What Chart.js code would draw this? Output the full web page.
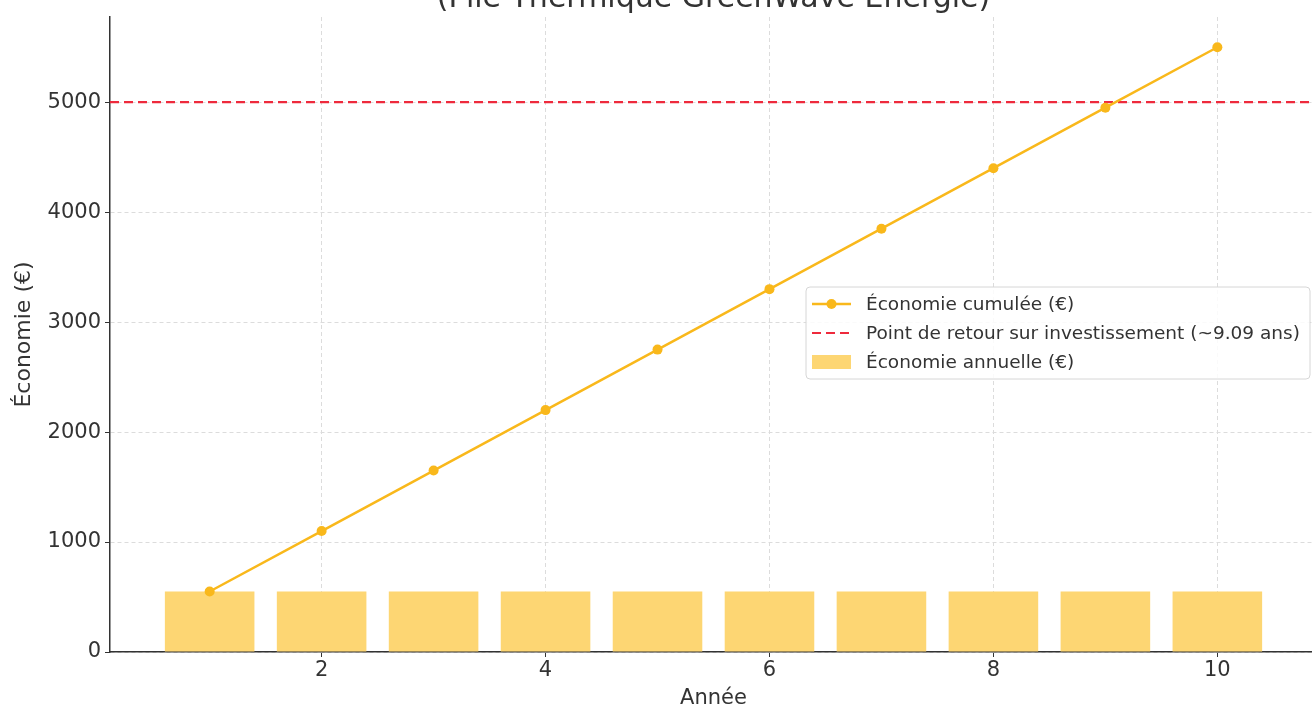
<!DOCTYPE html>
<html>
<head>
<meta charset="utf-8">
<script src="https://cdn.jsdelivr.net/npm/chart.js@4/dist/chart.umd.min.js"></script>
<style>
  html, body { margin: 0; padding: 0; background: #fff; overflow: hidden; }
  #wrap { position: absolute; left: 0; top: 0; width: 1330px; height: 709px; }
</style>
</head>
<body>
<div id="wrap"><canvas id="roiChart" width="1330" height="709"></canvas></div>
<script>
// Data
const years = [1, 2, 3, 4, 5, 6, 7, 8, 9, 10];
const annualSavings = [550, 550, 550, 550, 550, 550, 550, 550, 550, 550];
const cumulativeSavings = [550, 1100, 1650, 2200, 2750, 3300, 3850, 4400, 4950, 5500];
const paybackLevel = 5000;
const paybackYears = 9.09;
const xTicks = [2, 4, 6, 8, 10];
const yTicks = [0, 1000, 2000, 3000, 4000, 5000];

const xMin = 0.11, xMax = 10.89, yMax = 5775;

const textColor = '#333333';
const font = 'DejaVu Sans';

// title line (top line is cut off in the picture)
const titlePlugin = {
  id: 'cutTitle',
  afterDraw(chart) {
    const ctx = chart.ctx;
    const a = chart.chartArea;
    ctx.save();
    ctx.font = '30px "' + font + '"';
    ctx.fillStyle = textColor;
    ctx.textAlign = 'center';
    ctx.textBaseline = 'alphabetic';
    ctx.fillText('(Pile Thermique GreenWave Énergie)', (a.left + a.right) / 2, 7);
    ctx.restore();
  }
};

// matplotlib-like legend inside the plot
const legendPlugin = {
  id: 'boxLegend',
  afterDraw(chart) {
    const ctx = chart.ctx;
    const ds = chart.data.datasets;
    const x = 806, y = 287, w = 504, h = 92, rowH = 29;
    ctx.save();
    ctx.beginPath();
    ctx.roundRect(x, y, w, h, 4);
    ctx.fillStyle = 'rgba(255,255,255,0.85)';
    ctx.fill();
    ctx.strokeStyle = '#d6d6d6';
    ctx.lineWidth = 1;
    ctx.stroke();
    ctx.font = '18.5px "' + font + '"';
    ctx.textBaseline = 'middle';
    [ds[2], ds[1], ds[0]].forEach((d, i) => {
      const cy = y + 17 + i * rowH;
      if (d.type === 'bar') {
        ctx.fillStyle = d.backgroundColor;
        ctx.fillRect(812, cy - 7, 39, 14);
      } else {
        ctx.strokeStyle = d.borderColor;
        ctx.lineWidth = d.borderWidth;
        ctx.setLineDash(d.borderDash || []);
        ctx.beginPath();
        ctx.moveTo(812, cy);
        ctx.lineTo(851, cy);
        ctx.stroke();
        ctx.setLineDash([]);
        if (d.pointRadius > 0) {
          ctx.fillStyle = d.borderColor;
          ctx.beginPath();
          ctx.arc(831.5, cy, d.pointRadius, 0, Math.PI * 2);
          ctx.fill();
        }
      }
      ctx.fillStyle = textColor;
      ctx.fillText(d.label, 866, cy + 1);
    });
    ctx.restore();
  }
};

new Chart(document.getElementById('roiChart').getContext('2d'), {
  type: 'bar',
  data: {
    datasets: [
      {
        type: 'bar',
        label: 'Économie annuelle (€)',
        data: years.map((x, i) => ({ x: x, y: annualSavings[i] })),
        backgroundColor: '#fdd673',
        categoryPercentage: 0.8,
        barPercentage: 1.0,
        order: 3
      },
      {
        type: 'line',
        label: 'Point de retour sur investissement (~' + paybackYears + ' ans)',
        data: [{ x: xMin, y: paybackLevel }, { x: xMax, y: paybackLevel }],
        borderColor: '#ee2a3c',
        borderWidth: 2.2,
        borderDash: [9, 5],
        pointRadius: 0,
        order: 2
      },
      {
        type: 'line',
        label: 'Économie cumulée (€)',
        data: years.map((x, i) => ({ x: x, y: cumulativeSavings[i] })),
        borderColor: '#f9b81b',
        backgroundColor: '#f9b81b',
        borderWidth: 2.5,
        pointRadius: 5,
        pointBorderWidth: 0,
        order: 1
      }
    ]
  },
  options: {
    responsive: false,
    animation: false,
    layout: { padding: { left: 0, right: 13, top: 17, bottom: 0 } },
    plugins: { legend: { display: false }, title: { display: false }, tooltip: { enabled: false } },
    scales: {
      x: {
        type: 'linear',
        min: xMin,
        max: xMax,
        offset: false,
        afterFit(s) { s.height = 57; },
        afterBuildTicks(s) { s.ticks = xTicks.map(v => ({ value: v })); },
        grid: { offset: false, color: '#dcdcdc', tickColor: '#333', tickLength: 5, lineWidth: 1 },
        border: { color: '#333', width: 1.5, dash: [4, 3] },
        ticks: {
          padding: 1,
          color: textColor,
          font: { family: font, size: 21 },
          callback: v => String(v)
        },
        title: { display: true, text: 'Année', color: textColor, font: { family: font, size: 21 }, padding: { top: 0, bottom: -2 } }
      },
      y: {
        min: 0,
        max: yMax,
        afterFit(s) { s.width = 110; },
        afterBuildTicks(s) { s.ticks = yTicks.map(v => ({ value: v })); },
        grid: { color: '#dcdcdc', tickColor: '#333', tickLength: 5, lineWidth: 1 },
        border: { color: '#333', width: 1.5, dash: [4, 3] },
        ticks: {
          padding: 4,
          color: textColor,
          font: { family: font, size: 21 },
          callback: v => String(v)
        },
        title: { display: true, text: 'Économie (€)', color: textColor, font: { family: font, size: 22 }, padding: { top: 11, bottom: 0 } }
      }
    }
  },
  plugins: [titlePlugin, legendPlugin]
});
</script>
</body>
</html>
